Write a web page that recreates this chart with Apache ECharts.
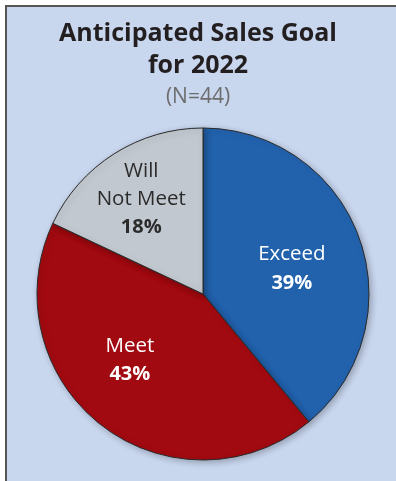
<!DOCTYPE html>
<html>
<head>
<meta charset="utf-8">
<script src="https://cdn.jsdelivr.net/npm/echarts@6/dist/echarts.min.js"></script>
<style>
  html, body { margin: 0; padding: 0; background: #ffffff; }
  #chart { position: absolute; left: 0; top: 0; width: 396px; height: 481px; }
</style>
</head>
<body>
<div id="chart"></div>
<script>
// Survey result: anticipated sales goal for 2022
const categories = ['Exceed', 'Meet', 'Will Not Meet'];
const shares = [39, 43, 18];          // percent of respondents
const sampleLabel = '(N=44)';

const sliceColors = ['#2262ad', '#a10a10', '#c2c8cf'];
const labelColors = ['#ffffff', '#ffffff', '#2b2b2b'];
// label placement inside each slice: [degrees clockwise from 12 o'clock, fraction of radius]
const labelPlace = [[74, 0.557], [228, 0.593], [327, 0.683]];

const CX = 203, CY = 294, R = 166;
const FONT = 'Open Sans';

const chart = echarts.init(document.getElementById('chart'), null, { renderer: 'canvas' });

chart.setOption({
  animation: false,
  graphic: [{
    type: 'rect',
    z: -10,
    shape: { x: 6, y: 6, width: 400, height: 490 },
    style: { fill: '#c8d6ee', stroke: '#555555', lineWidth: 2 }
  }],
  title: {
    text: 'Anticipated Sales Goal\nfor 2022',
    subtext: sampleLabel,
    left: 'center',
    top: 13,
    itemGap: 2,
    textStyle: {
      fontFamily: FONT,
      fontSize: 25,
      fontWeight: 'bold',
      color: '#231f20',
      lineHeight: 32
    },
    subtextStyle: {
      fontFamily: FONT,
      fontSize: 21,
      color: '#6d6d6d',
      lineHeight: 26
    }
  },
  series: [{
    type: 'pie',
    center: [CX, CY],
    radius: R,
    startAngle: 90,
    clockwise: true,
    silent: true,
    itemStyle: {
      borderColor: '#2a2a2a',
      borderWidth: 1,
      shadowBlur: 6,
      shadowColor: 'rgba(0,0,0,0.25)',
      shadowOffsetX: 2,
      shadowOffsetY: 2
    },
    label: {
      show: true,
      position: 'inside',
      fontFamily: FONT,
      formatter: function (p) {
        return '{n|' + p.name.replace('Will ', 'Will\n') + '}\n{v|' + p.value + '%}';
      }
    },
    labelLayout: function (params) {
      const r = params.labelRect;
      const lx = r.x + r.width / 2, ly = r.y + r.height / 2;
      const place = labelPlace[params.dataIndex];
      const a = place[0] * Math.PI / 180;
      const tx = CX + Math.sin(a) * place[1] * R;
      const ty = CY - Math.cos(a) * place[1] * R;
      return { dx: tx - lx, dy: ty - ly };
    },
    data: categories.map(function (name, i) {
      return {
        name: name,
        value: shares[i],
        itemStyle: { color: sliceColors[i] },
        label: {
          rich: {
            n: { fontFamily: FONT, fontSize: 20.5, color: labelColors[i], lineHeight: 28.5, align: 'center' },
            v: { fontFamily: FONT, fontSize: 20, fontWeight: 'bold', color: labelColors[i], lineHeight: 28.5, align: 'center' }
          }
        }
      };
    })
  }]
});
</script>
</body>
</html>
